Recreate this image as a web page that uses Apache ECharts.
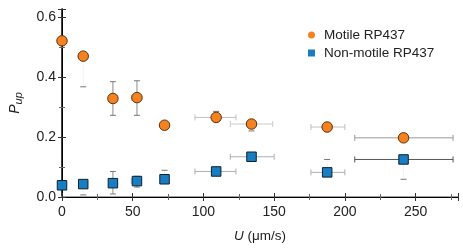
<!DOCTYPE html>
<html><head><meta charset="utf-8">
<script src="https://cdn.jsdelivr.net/npm/echarts@6/dist/echarts.min.js"></script>
<style>html,body{margin:0;padding:0;background:#fff}#c{width:463px;height:248px}</style>
</head><body><div id="c"></div>
<script>
// Data
var speedMotile    = [0, 15, 36, 53, 72.5, 109, 134, 187.5, 241.5];
var pMotile        = [0.52, 0.469, 0.328, 0.331, 0.239, 0.265, 0.243, 0.233, 0.197];
var xLowMotile     = [0, 12, 34, 49, 70, 94, 119, 176, 207];
var xHighMotile    = [0, 18, 39, 56, 75, 123, 149, 200, 276.5];
var yLowMotile     = [0.52, 0.367, 0.272, 0.272, 0.234, 0.26, 0.22, 0.228, 0.185];
var yHighMotile    = [0.52, 0.475, 0.384, 0.387, 0.244, 0.285, 0.255, 0.238, 0.21];

var speedNon       = [0, 15, 36, 53, 72.5, 109, 134, 187.5, 241.5];
var pNon           = [0.039, 0.043, 0.046, 0.053, 0.059, 0.085, 0.134, 0.082, 0.125];
var xLowNon        = [0, 12, 34, 49, 70, 94, 119, 176, 207];
var xHighNon       = [0, 18, 39, 56, 75, 123, 150, 200, 276.5];
var yLowNon        = [0.039, 0.007, 0.01, 0.033, 0.055, 0.085, 0.134, 0.08, 0.059];
var yHighNon       = [0.039, 0.05, 0.085, 0.069, 0.089, 0.085, 0.134, 0.125, 0.13];

var xTicks = [0, 50, 100, 150, 200, 250];
var yTicks = [0.0, 0.2, 0.4, 0.6];
var seriesNames = ['Motile RP437', 'Non-motile RP437'];

// styling (not data): how visible each error-bar stem is in the reference
var stemMotile = ['#fff', '#f4f4f4', '#8a8a8a', '#8a8a8a', '#ccc', '#ddd', '#eee', '#ddd', '#aaa'];
var stemNon    = ['#fff', '#f4f4f4', '#8a8a8a', '#8a8a8a', '#eee', '#ccc', '#ccc', '#f4f4f4', '#f4f4f4'];
var hbarMotile = ['#fff', '#aaa', '#aaa', '#bbb', '#aaa', '#c0c0c0', '#ccc', '#c0c0c0', '#9a9a9a'];
var hbarNon    = ['#fff', '#aaa', '#aaa', '#bbb', '#aaa', '#b0b0b0', '#b0b0b0', '#b0b0b0', '#555'];

var ORANGE = '#f5821f', BLUE = '#1a7dc1';
var FONT = 'Liberation Sans, Arial, sans-serif';

function errData(xs, ys, xl, xh, yl, yh) {
  return xs.map(function (x, i) { return [x, ys[i], xl[i], xh[i], yl[i], yh[i]]; });
}
function errRender(stem, hbar) {
  return function (params, api) {
    var i = params.dataIndex;
    var p = api.coord([api.value(0), api.value(1)]);
    var xl = api.coord([api.value(2), api.value(1)]);
    var xh = api.coord([api.value(3), api.value(1)]);
    var yl = api.coord([api.value(0), api.value(4)]);
    var yh = api.coord([api.value(0), api.value(5)]);
    var c = 3, ch = [];
    var hs = { stroke: hbar[i], lineWidth: 1 };
    var vs = { stroke: stem[i], lineWidth: 1 };
    var cs = { stroke: '#777', lineWidth: 1 };
    if (Math.abs(xh[0] - xl[0]) > 1) {
      ch.push({ type: 'line', shape: { x1: xl[0], y1: p[1], x2: xh[0], y2: p[1] }, style: hs });
      ch.push({ type: 'line', shape: { x1: xl[0], y1: p[1] - c, x2: xl[0], y2: p[1] + c }, style: hs });
      ch.push({ type: 'line', shape: { x1: xh[0], y1: p[1] - c, x2: xh[0], y2: p[1] + c }, style: hs });
    }
    if (Math.abs(yh[1] - yl[1]) > 1) {
      ch.push({ type: 'line', shape: { x1: p[0], y1: yl[1], x2: p[0], y2: yh[1] }, style: vs });
      ch.push({ type: 'line', shape: { x1: p[0] - c, y1: yl[1], x2: p[0] + c, y2: yl[1] }, style: cs });
      ch.push({ type: 'line', shape: { x1: p[0] - c, y1: yh[1], x2: p[0] + c, y2: yh[1] }, style: cs });
    }
    return { type: 'group', children: ch };
  };
}

var chart = echarts.init(document.getElementById('c'), null, { renderer: 'canvas' });
var tickStyle = { show: true, inside: true, length: 4, lineStyle: { color: '#333', width: 1 } };
var minorStyle = { show: true, splitNumber: 2, length: 3, lineStyle: { color: '#666', width: 1 } };

chart.setOption({
  animation: false,
  grid: { left: 57, right: 5, top: 9, bottom: 48, containLabel: false },
  legend: {
    left: 303, top: 23, orient: 'vertical', itemGap: 4, itemWidth: 7, itemHeight: 7,
    textStyle: { fontFamily: FONT, fontSize: 13.5, color: '#222', padding: [0, 0, 0, 4] },
    data: [
      { name: seriesNames[0], icon: 'circle', itemStyle: { borderWidth: 0 } },
      { name: seriesNames[1], icon: 'rect', itemStyle: { borderWidth: 0 } }
    ]
  },
  xAxis: [{
    type: 'value', min: 0, max: 280, interval: 50, position: 'bottom',
    axisLine: { show: true, lineStyle: { color: '#a0a0a0', width: 2 } },
    axisTick: tickStyle, minorTick: minorStyle, splitLine: { show: false },
    axisLabel: { fontFamily: FONT, fontSize: 14, color: '#222', margin: 8,
      formatter: function (v) { return xTicks.indexOf(v) >= 0 ? String(v) : ''; } },
    name: '{i|U} (μm/s)', nameLocation: 'middle', nameGap: 32,
    nameTextStyle: { fontFamily: FONT, fontSize: 13.5, color: '#222',
      rich: { i: { fontStyle: 'italic', fontFamily: FONT, fontSize: 13.5, color: '#222' } } }
  }, {
    type: 'value', min: 0, max: 280, interval: 50, position: 'top',
    axisLine: { show: true, lineStyle: { color: '#000', width: 1 } },
    axisTick: tickStyle, minorTick: minorStyle, axisLabel: { show: false }, splitLine: { show: false }
  }],
  yAxis: [{
    type: 'value', min: 0, max: 0.626, interval: 0.2, position: 'left',
    axisLine: { show: true, lineStyle: { color: '#000', width: 1.5 } },
    axisTick: tickStyle, minorTick: minorStyle, splitLine: { show: false },
    axisLabel: { fontFamily: FONT, fontSize: 14, color: '#222', margin: 6, showMaxLabel: false,
      formatter: function (v) {
        for (var k = 0; k < yTicks.length; k++) if (Math.abs(yTicks[k] - v) < 1e-6) return v.toFixed(1);
        return '';
      } },
    name: '{i|P}{s|up}', nameLocation: 'middle', nameGap: 38,
    nameTextStyle: { rich: {
      i: { fontStyle: 'italic', fontFamily: FONT, fontSize: 14, color: '#222' },
      s: { fontStyle: 'italic', fontFamily: FONT, fontSize: 11, color: '#222', padding: [7, 0, 0, 0] }
    } }
  }, {
    type: 'value', min: 0, max: 0.626, interval: 0.2, position: 'right',
    axisLine: { show: true, lineStyle: { color: '#000', width: 1 } },
    axisTick: tickStyle, minorTick: minorStyle, axisLabel: { show: false }, splitLine: { show: false }
  }],
  series: [
    { type: 'custom', silent: true, z: 1, renderItem: errRender(stemMotile, hbarMotile),
      data: errData(speedMotile, pMotile, xLowMotile, xHighMotile, yLowMotile, yHighMotile) },
    { type: 'custom', silent: true, z: 1, renderItem: errRender(stemNon, hbarNon),
      data: errData(speedNon, pNon, xLowNon, xHighNon, yLowNon, yHighNon) },
    { name: seriesNames[0], type: 'scatter', symbol: 'circle', symbolSize: 10.5, z: 3,
      itemStyle: { color: ORANGE, borderColor: '#5a3010', borderWidth: 1, opacity: 1 },
      data: speedMotile.map(function (x, i) { return [x, pMotile[i]]; }) },
    { name: seriesNames[1], type: 'scatter', symbol: 'rect', symbolSize: 9.5, z: 3,
      itemStyle: { color: BLUE, borderColor: '#0a2236', borderWidth: 1, opacity: 1 },
      data: speedNon.map(function (x, i) { return [x, pNon[i]]; }) }
  ]
});
</script></body></html>
